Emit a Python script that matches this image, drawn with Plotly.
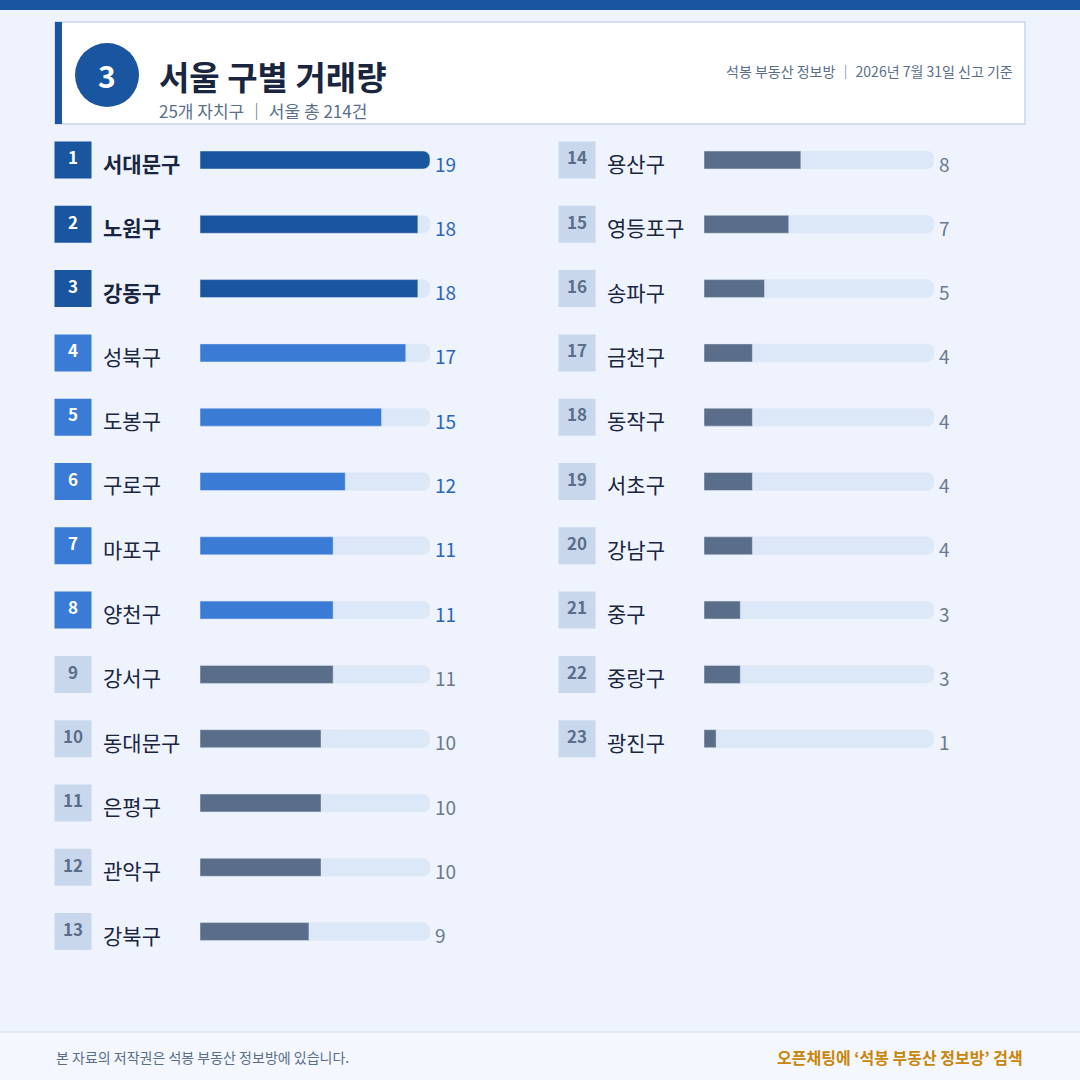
# 서울 구별 거래량 - 순위 막대 차트
import plotly.graph_objects as go

districts = ['서대문구', '노원구', '강동구', '성북구', '도봉구', '구로구', '마포구', '양천구',
             '강서구', '동대문구', '은평구', '관악구', '강북구',
             '용산구', '영등포구', '송파구', '금천구', '동작구', '서초구', '강남구',
             '중구', '중랑구', '광진구']
counts = [19, 18, 18, 17, 15, 12, 11, 11, 11, 10, 10, 10, 9,
          8, 7, 5, 4, 4, 4, 4, 3, 3, 1]
ranks = list(range(1, len(districts) + 1))
max_count = 19

W = H = 1080
FONT = 'Noto Sans CJK KR'
DARK, BRIGHT, SLATE = '#1a55a0', '#3a7bd5', '#5a6e8a'
TRACK = '#dce7f8'

def color_for(r):
    if r <= 3:
        return DARK
    if r <= 8:
        return BRIGHT
    return SLATE

fig = go.Figure()

# 두 열: 1~13, 14~23
cols = [
    dict(idx=range(0, 13), xa='x', bx='x3', name=101),
    dict(idx=range(13, 23), xa='x2', bx='x4', name=605),
]
row_y0, row_gap = 160, 64.3

annotations = []
for c in cols:
    idx = list(c['idx'])
    ys = [row_y0 + row_gap * k for k in range(len(idx))]
    vals = [counts[i] for i in idx]
    rk = [ranks[i] for i in idx]
    # 트랙
    fig.add_trace(go.Bar(x=[max_count] * len(idx), y=ys, orientation='h', width=18,
                         marker=dict(color=TRACK, cornerradius=7), xaxis=c['xa'], yaxis='y',
                         hoverinfo='skip', showlegend=False))
    fig.add_trace(go.Bar(x=vals, y=ys, orientation='h', width=18,
                         marker=dict(color=[color_for(r) for r in rk], cornerradius=7),
                         xaxis=c['xa'], yaxis='y', showlegend=False))
    # 배지
    fig.add_trace(go.Scatter(x=[0] * len(idx), y=ys, mode='markers+text', xaxis=c['bx'],
                             yaxis='y', text=[f'<b>{r}</b>' for r in rk], textposition='middle center',
                             textfont=dict(family=FONT, size=17,
                                           color=['white' if r <= 8 else SLATE for r in rk]),
                             marker=dict(symbol='square', size=37,
                                         color=[color_for(r) if r <= 8 else '#c9d7ec' for r in rk]),
                             showlegend=False, hoverinfo='skip'))
    for k, i in enumerate(idx):
        r = ranks[i]
        annotations.append(dict(x=c['name'] / W, y=1 - (ys[k] + 3) / H, xref='paper', yref='paper',
                                text=f'<b>{districts[i]}</b>' if r <= 3 else districts[i],
                                showarrow=False, xanchor='left', yanchor='middle',
                                font=dict(family=FONT, size=21, color='#1a2540')))
        annotations.append(dict(x=max_count, y=ys[k] + 3, xref=c['xa'], yref='y',
                                text=str(counts[i]), showarrow=False, xanchor='left', xshift=3,
                                yanchor='middle',
                                font=dict(family=FONT, size=19,
                                          color='#2a66b8' if r <= 8 else '#6b7a90')))

# 헤더/푸터 텍스트
annotations += [
    dict(x=107 / W, y=1 - 75 / H, text='<b>3</b>', font=dict(family=FONT, size=30, color='white')),
    dict(x=157 / W, y=1 - 76 / H, text='<b>서울 구별 거래량</b>', xanchor='left',
         font=dict(family=FONT, size=33, color='#1a2540')),
    dict(x=157 / W, y=1 - 110 / H, text='25개 자치구 ｜ 서울 총 214건', xanchor='left',
         font=dict(family=FONT, size=17, color=SLATE)),
    dict(x=1015 / W, y=1 - 71 / H, text='석봉 부동산 정보방 ｜ 2026년 7월 31일 신고 기준', xanchor='right',
         font=dict(family=FONT, size=14, color=SLATE)),
    dict(x=54 / W, y=1 - 1057 / H, text='본 자료의 저작권은 석봉 부동산 정보방에 있습니다.', xanchor='left',
         font=dict(family=FONT, size=14, color=SLATE)),
    dict(x=1025 / W, y=1 - 1057 / H, text='<b>오픈채팅에 ‘석봉 부동산 정보방’ 검색</b>', xanchor='right',
         font=dict(family=FONT, size=16, color='#c8860a')),
]
for a in annotations[-6:]:
    a.update(xref='paper', yref='paper', showarrow=False, yanchor='middle')
    a.setdefault('xanchor', 'center')

shapes = [
    dict(type='rect', x0=0, x1=1, y0=1 - 10 / H, y1=1, fillcolor=DARK, line_width=0),
    dict(type='rect', x0=55 / W, x1=1025 / W, y0=1 - 124 / H, y1=1 - 22 / H, fillcolor='white',
         line=dict(color='#c9d7ec', width=1.5)),
    dict(type='rect', x0=55 / W, x1=62 / W, y0=1 - 124 / H, y1=1 - 22 / H, fillcolor=DARK, line_width=0),
    dict(type='circle', x0=75 / W, x1=139 / W, y0=1 - 107 / H, y1=1 - 43 / H, fillcolor=DARK, line_width=0),
    dict(type='rect', x0=0, x1=1, y0=0, y1=1 - 1032 / H, fillcolor='#f4f7fd',
         line_width=0, layer='below'),
    dict(type='line', x0=0, x1=1, y0=1 - 1032 / H, y1=1 - 1032 / H, line=dict(color='#d5def0', width=1)),
]
for s in shapes:
    s.update(xref='paper', yref='paper')

ax = dict(showgrid=False, zeroline=False, showticklabels=False, fixedrange=True)
fig.update_layout(
    width=W, height=H, margin=dict(l=0, r=0, t=0, b=0),
    paper_bgcolor='#eef3fd', plot_bgcolor='rgba(0,0,0,0)', barmode='overlay',
    xaxis=dict(domain=[200 / W, 430 / W], range=[0, max_count], **ax),
    xaxis2=dict(domain=[704 / W, 934 / W], range=[0, max_count], anchor='y', **ax),
    xaxis3=dict(domain=[0, 146 / W], range=[-1, 1], anchor='y', **ax),
    xaxis4=dict(domain=[504 / W, 650 / W], range=[-1, 1], anchor='y', **ax),
    yaxis=dict(domain=[0, 1], range=[H, 0], **ax),
    shapes=shapes, annotations=annotations,
)

fig.write_html('out.html', config={'displayModeBar': False},
               post_script="document.body.style.margin='0';")
